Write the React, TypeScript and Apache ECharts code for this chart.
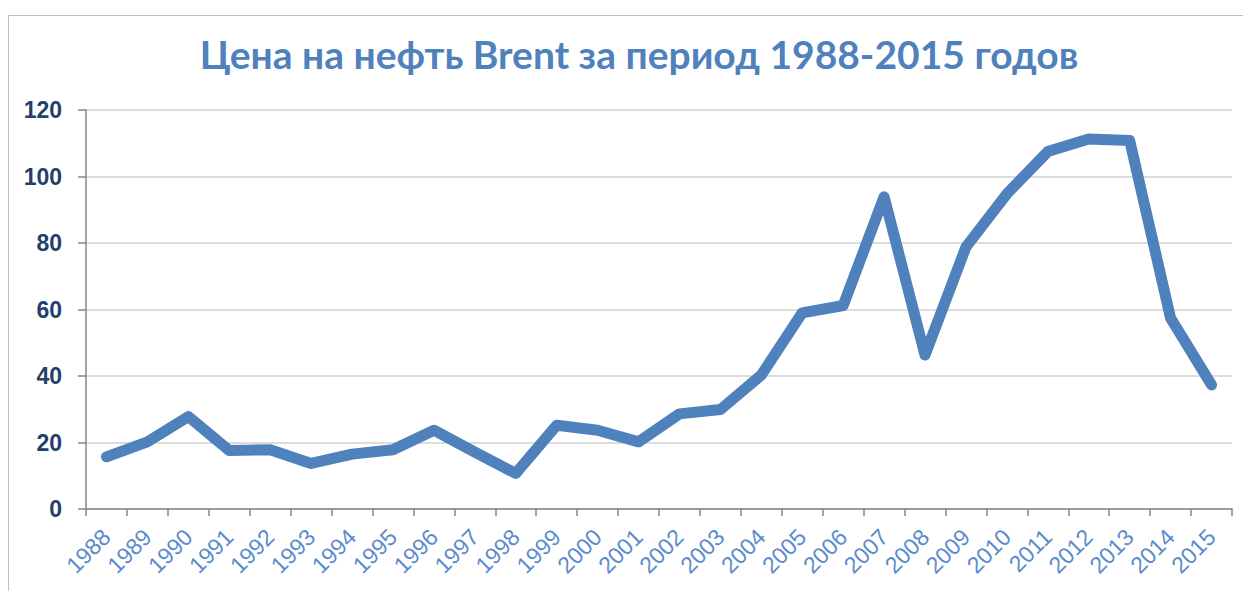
import React, { useEffect, useRef } from "react";
import * as echarts from "echarts";

const years = [
  "1988", "1989", "1990", "1991", "1992", "1993", "1994", "1995", "1996", "1997",
  "1998", "1999", "2000", "2001", "2002", "2003", "2004", "2005", "2006", "2007",
  "2008", "2009", "2010", "2011", "2012", "2013", "2014", "2015",
];
const brentPrice = [
  15.7, 20.2, 27.8, 17.6, 17.8, 13.7, 16.5, 17.8, 23.7, 17.1,
  10.7, 25.2, 23.7, 20.2, 28.6, 29.9, 40.3, 59, 61.2, 93.9,
  46.3, 78.8, 94.8, 107.5, 111.3, 110.8, 57.4, 37.3,
];
const titleText = "Цена на нефть Brent за период 1988-2015 годов";

export default function App() {
  const ref = useRef<HTMLDivElement>(null);
  useEffect(() => {
    if (!ref.current) return;
    const chart = echarts.init(ref.current, null, { renderer: "svg" });
    chart.setOption({
      animation: false,
      backgroundColor: "#ffffff",
      title: {
        text: titleText,
        left: 634,
        textAlign: "center",
        top: 29,
        textStyle: {
          fontFamily: "Lato",
          fontWeight: "bold",
          fontSize: 39,
          color: "#4F81BD",
        },
      },
      graphic: [
        {
          type: "rect",
          shape: { x: 8.5, y: 15.5, width: 1260, height: 620 },
          style: { fill: "none", stroke: "#BFBFBF", lineWidth: 1 },
          silent: true,
        },
      ],
      grid: { left: 86, right: 11, top: 110, bottom: 82 },
      xAxis: {
        type: "category",
        data: years,
        boundaryGap: true,
        axisLine: { show: true, lineStyle: { color: "#868686", width: 1.5 } },
        axisTick: { show: true, length: 7, alignWithLabel: false, lineStyle: { color: "#868686", width: 1.5 } },
        axisLabel: {
          rotate: 45,
          interval: 0,
          margin: 24,
          color: "#5B8BCB",
          fontFamily: "Liberation Sans",
          fontSize: 23,
        },
      },
      yAxis: {
        type: "value",
        min: 0,
        max: 120,
        interval: 20,
        axisLine: { show: true, lineStyle: { color: "#868686", width: 1.5 } },
        axisTick: { show: true, length: 8, lineStyle: { color: "#868686", width: 1.5 } },
        splitLine: { show: true, lineStyle: { color: "#D0D0D0", width: 1.5 } },
        axisLabel: {
          margin: 24,
          color: "#243F6A",
          fontFamily: "Liberation Sans",
          fontWeight: "bold",
          fontSize: 23,
        },
      },
      series: [
        {
          type: "line",
          data: brentPrice,
          symbol: "none",
          lineStyle: { color: "#4F81BD", width: 11, cap: "round", join: "round" },
        },
      ],
    });
    return () => chart.dispose();
  }, []);
  return (
    <div
      ref={ref}
      style={{ position: "fixed", left: 0, top: 0, width: 1243, height: 591 }}
    />
  );
}
